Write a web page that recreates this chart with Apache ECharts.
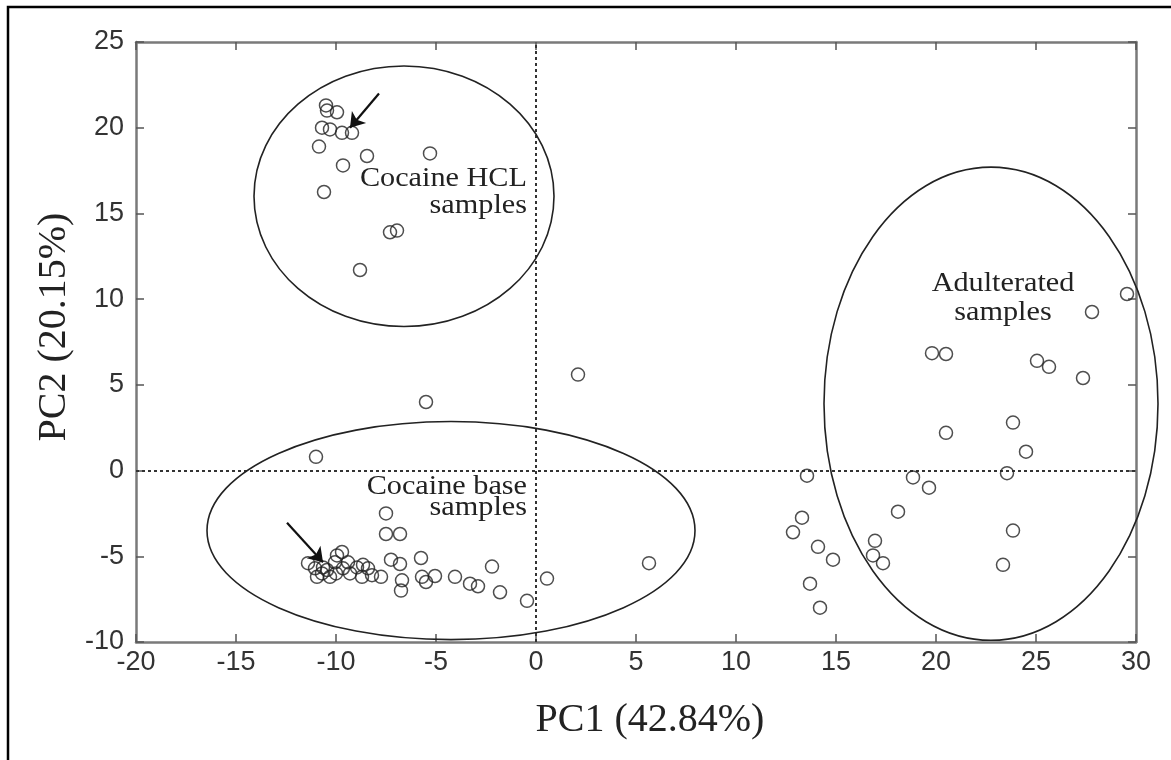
<!DOCTYPE html>
<html>
<head>
<meta charset="utf-8">
<script src="https://cdn.jsdelivr.net/npm/echarts@6/dist/echarts.min.js"></script>
<style>
html, body { margin: 0; padding: 0; background: #fff; }
#chart { width: 1171px; height: 760px; }
</style>
</head>
<body>
<div id="chart"></div>
<script>
// PCA scores [PC1, PC2]
var hclPoints = [
    [-10.5, 21.3], [-10.45, 21.0], [-9.95, 20.9], [-10.7, 20.0], [-10.3, 19.9],
    [-9.7, 19.7], [-9.2, 19.7], [-10.85, 18.9], [-9.65, 17.8], [-8.45, 18.35],
    [-5.3, 18.5], [-10.6, 16.25], [-7.3, 13.9], [-6.95, 14.0], [-8.8, 11.7]
];
var basePoints = [
    [-5.5, 4.0], [-11.0, 0.8], [-7.5, -2.5], [-7.5, -3.7], [-6.8, -3.7],
    [-7.25, -5.2], [-6.8, -5.45], [-5.75, -5.1], [-6.7, -6.4], [-6.75, -7.0],
    [-5.7, -6.2], [-5.5, -6.5], [-5.05, -6.15], [-4.05, -6.2], [-3.3, -6.6],
    [-2.9, -6.75], [-2.2, -5.6], [-1.8, -7.1], [-0.45, -7.6], [0.55, -6.3],
    [-7.75, -6.2], [2.1, 5.6], [5.65, -5.4],
    [-11.4, -5.4], [-11.05, -5.7], [-10.7, -6.0], [-10.45, -5.8], [-10.05, -5.35],
    [-9.7, -4.75], [-9.95, -4.95], [-9.65, -5.7], [-9.3, -6.0], [-8.95, -5.65],
    [-8.65, -5.5], [-8.4, -5.7], [-8.7, -6.2], [-8.2, -6.1], [-10.95, -6.2],
    [-10.3, -6.2], [-10.65, -5.65], [-9.4, -5.35], [-10.0, -6.0]
];
var adultPoints = [
    [29.55, 10.3], [27.8, 9.25], [19.8, 6.85], [20.5, 6.8], [25.05, 6.4],
    [25.65, 6.05], [27.35, 5.4], [20.5, 2.2], [23.85, 2.8], [24.5, 1.1],
    [13.55, -0.3], [18.85, -0.4], [23.55, -0.15], [19.65, -1.0], [18.1, -2.4],
    [13.3, -2.75], [12.85, -3.6], [23.85, -3.5], [14.1, -4.45], [16.95, -4.1],
    [14.85, -5.2], [16.85, -4.95], [17.35, -5.4], [23.35, -5.5], [13.7, -6.6],
    [14.2, -8.0]
];

// group ellipses: [centerX, centerY, radiusX, radiusY]
var groupEllipses = [
    [-6.6, 16.0, 7.5, 7.6],
    [-4.25, -3.5, 12.2, 6.36],
    [22.75, 3.9, 8.35, 13.8]
];

// group labels, one line each: [x, y, text, align]
var groupLabels = [
    [-0.45, 17.04, 'Cocaine HCL', 'right'],
    [-0.45, 15.46, 'samples', 'right'],
    [-0.45, -0.93, 'Cocaine base', 'right'],
    [-0.45, -2.15, 'samples', 'right'],
    [23.35, 10.91, 'Adulterated', 'center'],
    [23.35, 9.22, 'samples', 'center']
];

// arrows pointing at selected samples
var arrows = [
    [[-7.85, 22.0], [-9.3, 20.0]],
    [[-12.45, -3.05], [-10.65, -5.35]]
];

var xTicks = { min: -20, max: 30, step: 5 };
var yTicks = { min: -10, max: 25, step: 5 };

var myChart = echarts.init(document.getElementById('chart'));

var axisLineStyle = { color: '#7a7a7a', width: 2.5 };
var tickStyle = { show: true, inside: true, length: 8, lineStyle: { color: '#555', width: 1.5 } };
var tickLabel = { color: '#333', fontSize: 27, fontFamily: "'Liberation Sans Narrow', 'Liberation Sans', sans-serif" };

var circleStyle = { color: 'rgba(0,0,0,0)', borderColor: '#222', borderWidth: 1.5 };

function pointSeries(name, data) {
    return {
        name: name,
        type: 'scatter',
        data: data,
        symbol: 'circle',
        symbolSize: 13,
        itemStyle: circleStyle,
        silent: true,
        z: 5
    };
}

var option = {
    animation: false,
    backgroundColor: '#fff',
    graphic: [{
        type: 'rect',
        shape: { x: 8, y: 7, width: 1200, height: 800 },
        style: { fill: null, stroke: '#000', lineWidth: 2.5 },
        silent: true
    }],
    grid: { left: 136, top: 42, right: 35, bottom: 118 },
    xAxis: [{
        type: 'value',
        min: xTicks.min, max: xTicks.max, interval: xTicks.step,
        position: 'bottom',
        name: 'PC1 (42.84%)',
        nameLocation: 'middle',
        nameGap: 58,
        nameTextStyle: { fontFamily: 'Liberation Serif', fontSize: 40, color: '#222', padding: [0, 0, 0, 28] },
        axisLine: { onZero: false, lineStyle: axisLineStyle },
        axisTick: tickStyle,
        axisLabel: Object.assign({ margin: 7 }, tickLabel),
        splitLine: { show: false }
    }, {
        type: 'value',
        min: xTicks.min, max: xTicks.max, interval: xTicks.step,
        position: 'top',
        axisLine: { onZero: false, lineStyle: axisLineStyle },
        axisTick: tickStyle,
        axisLabel: { show: false },
        splitLine: { show: false }
    }],
    yAxis: [{
        type: 'value',
        min: yTicks.min, max: yTicks.max, interval: yTicks.step,
        position: 'left',
        name: 'PC2 (20.15%)',
        nameLocation: 'middle',
        nameGap: 60,
        nameTextStyle: { fontFamily: 'Liberation Serif', fontSize: 40, color: '#222', padding: [0, 0, 0, 30] },
        axisLine: { onZero: false, lineStyle: axisLineStyle },
        axisTick: tickStyle,
        axisLabel: Object.assign({ margin: 12 }, tickLabel),
        splitLine: { show: false }
    }, {
        type: 'value',
        min: yTicks.min, max: yTicks.max, interval: yTicks.step,
        position: 'right',
        axisLine: { onZero: false, lineStyle: axisLineStyle },
        axisTick: tickStyle,
        axisLabel: { show: false },
        splitLine: { show: false }
    }],
    series: [
        Object.assign(pointSeries('Cocaine HCL', hclPoints), {
            markLine: {
                silent: true,
                symbol: ['none', 'none'],
                label: { show: false },
                lineStyle: { type: [3, 3], color: '#333', width: 2 },
                data: [{ xAxis: 0 }, { yAxis: 0 }],
                z: 1
            }
        }),
        pointSeries('Cocaine base', basePoints),
        pointSeries('Adulterated', adultPoints),
        {
            type: 'custom',
            name: 'ellipses',
            data: groupEllipses,
            silent: true,
            clip: false,
            z: 3,
            renderItem: function (params, api) {
                var c = api.coord([api.value(0), api.value(1)]);
                var s = api.size([api.value(2), api.value(3)]);
                return {
                    type: 'ellipse',
                    shape: { cx: c[0], cy: c[1], rx: s[0], ry: s[1] },
                    style: { fill: null, stroke: '#222', lineWidth: 1.6 }
                };
            }
        },
        {
            type: 'custom',
            name: 'labels',
            data: groupLabels,
            silent: true,
            z: 6,
            renderItem: function (params, api) {
                var item = groupLabels[params.dataIndex];
                var c = api.coord([item[0], item[1]]);
                return {
                    type: 'text',
                    x: c[0], y: c[1],
                    scaleX: 1.12,
                    style: {
                        text: item[2],
                        x: 0, y: 0,
                        textAlign: item[3],
                        textVerticalAlign: 'middle',
                        fontFamily: 'Liberation Serif',
                        fontSize: 27,
                        fill: '#222'
                    }
                };
            }
        },
        {
            type: 'lines',
            coordinateSystem: 'cartesian2d',
            silent: true,
            symbol: ['none', 'arrow'],
            symbolSize: 14,
            lineStyle: { color: '#111', width: 2.2, opacity: 1 },
            data: arrows.map(function (a) { return { coords: a }; }),
            z: 7
        }
    ]
};
myChart.setOption(option);
</script>
</body>
</html>
